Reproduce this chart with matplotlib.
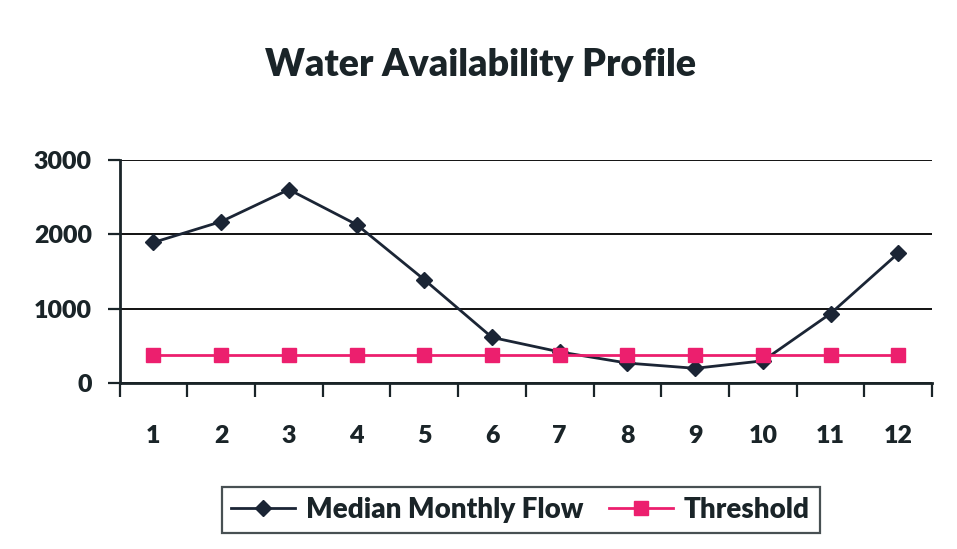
import numpy as np
import matplotlib.pyplot as plt

months = [1, 2, 3, 4, 5, 6, 7, 8, 9, 10, 11, 12]
median_flow = [1890, 2170, 2600, 2130, 1390, 615, 420, 270, 200, 300, 935, 1745]
threshold = [372] * 12

ink = '#1a2428'
plt.rcParams['font.family'] = ['Lato', 'DejaVu Sans']
plt.rcParams['font.weight'] = 'heavy'
plt.rcParams['text.color'] = ink
plt.rcParams['xtick.color'] = ink
plt.rcParams['ytick.color'] = ink

fig = plt.figure(figsize=(9.57, 5.49), dpi=100)
ax = fig.add_axes([0.125, 0.302, 0.849, 0.407])

ax.plot(months, median_flow, color='#1b2535', lw=2, marker='D', ms=8,
        label='Median Monthly Flow', zorder=3)
ax.plot(months, threshold, color='#ec1f6e', lw=2, marker='s', ms=10,
        label='Threshold', zorder=3)

ax.set_xlim(0.5, 12.5)
ax.set_ylim(0, 3000)
ax.set_yticks([0, 1000, 2000, 3000])
ax.yaxis.grid(True, color='#111111', lw=1.4)
ax.set_axisbelow(True)

ax.set_xticks(months)
ax.set_xticks(np.arange(0.5, 13, 1), minor=True)
ax.tick_params(axis='x', which='major', length=0, pad=30, labelsize=18,
               labelcolor=ink)
ax.tick_params(axis='x', which='minor', length=10, width=1.6, direction='out',
               color=ink)
ax.tick_params(axis='y', length=9, width=1.6, pad=11, labelsize=18,
               color=ink, labelcolor=ink)

for s in ['top', 'right']:
    ax.spines[s].set_visible(False)
ax.spines['left'].set_linewidth(2)
ax.spines['bottom'].set_linewidth(2)
ax.spines['left'].set_color(ink)
ax.spines['bottom'].set_color(ink)

fig.text(0.502, 0.882, 'Water Availability Profile', ha='center', va='center',
         fontsize=27, fontweight='heavy', color=ink)

leg = fig.legend(loc='center', bbox_to_anchor=(0.544, 0.071), ncol=2,
                 fontsize=20, frameon=True, fancybox=False, edgecolor=ink,
                 handlelength=2.3, columnspacing=0.9, handletextpad=0.4,
                 borderpad=0.35, labelcolor=ink)
leg.get_frame().set_linewidth(1.6)

fig.savefig('out.png', dpi=100)
